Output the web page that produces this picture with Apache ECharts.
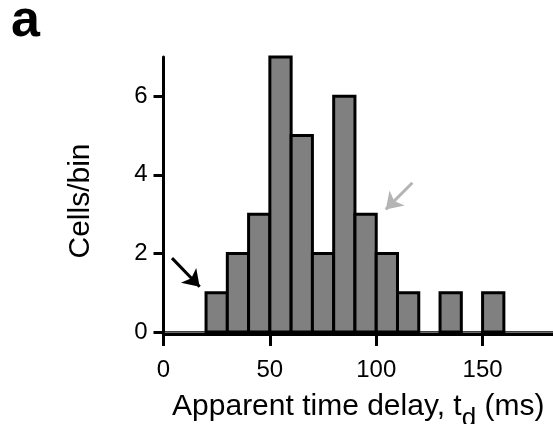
<!DOCTYPE html>
<html>
<head>
<meta charset="utf-8">
<script src="https://cdn.jsdelivr.net/npm/echarts@6/dist/echarts.min.js"></script>
<style>
  html, body { margin: 0; padding: 0; background: #ffffff; }
  #chart { width: 553px; height: 424px; }
</style>
</head>
<body>
<div id="chart"></div>
<script>
// Histogram bins (ms) and counts (cells per bin)
const binStarts = [20, 30, 40, 50, 60, 70, 80, 90, 100, 110, 120, 130, 140, 150];
const binWidth = 10;
const counts    = [1, 2, 3, 7, 5, 2, 6, 3, 2, 1, 0, 1, 0, 1];
const xTicks = [0, 50, 100, 150];
const yTicks = [0, 2, 4, 6];
const xMin = 0, xMax = 183.1;
const yMin = 0, yMax = 7;
const xTitle = 'Apparent time delay, t';
const xTitleSub = 'd';
const xTitleEnd = ' (ms)';
const yTitle = 'Cells/bin';
const panelLabel = 'a';

const FONT = '"Liberation Sans", Arial, Helvetica, sans-serif';

const histData = binStarts.map((s, i) => [s, s + binWidth, counts[i]]).filter(d => d[2] > 0);

const chart = echarts.init(document.getElementById('chart'), null, { renderer: 'canvas' });

const option = {
  backgroundColor: '#ffffff',
  animation: false,
  title: {
    text: panelLabel,
    left: 6,
    top: -9,
    textStyle: { fontFamily: FONT, fontSize: 52, fontWeight: 'bold', color: '#000' }
  },
  grid: { left: 163.5, top: 57, bottom: 92, right: 0, containLabel: false, outerBoundsMode: 'none' },
  xAxis: {
    type: 'value',
    min: xMin, max: xMax, interval: 50,
    offset: 2,
    axisLine: { show: true, onZero: false, lineStyle: { color: '#000', width: 3 } },
    axisTick: { show: true, length: 12, lineStyle: { color: '#000', width: 3 }, customValues: xTicks },
    axisLabel: { customValues: xTicks, margin: 24, fontFamily: FONT, fontSize: 24, color: '#000' },
    splitLine: { show: false },
    name: '{n|' + xTitle + '}{s|' + xTitleSub + '}{n|' + xTitleEnd + '}',
    nameLocation: 'middle',
    nameGap: 52,
    nameTextStyle: {
      rich: {
        n: { fontFamily: FONT, fontSize: 30, color: '#000', lineHeight: 36, verticalAlign: 'bottom' },
        s: { fontFamily: FONT, fontSize: 26, color: '#000', lineHeight: 36, verticalAlign: 'bottom', padding: [0, 0, -10, 0] }
      }
    }
  },
  yAxis: {
    type: 'value',
    min: yMin, max: yMax, interval: 1,
    axisLine: { show: true, onZero: false, lineStyle: { color: '#000', width: 3 } },
    axisTick: { show: true, length: 10, lineStyle: { color: '#000', width: 3 }, customValues: yTicks },
    axisLabel: { customValues: yTicks, margin: 16, fontFamily: FONT, fontSize: 24, color: '#000' },
    splitLine: { show: false },
    name: yTitle,
    nameLocation: 'middle',
    nameGap: 68,
    nameTextStyle: { fontFamily: FONT, fontSize: 30, color: '#000', padding: [0, 13, 0, 0] }
  },
  series: [
    {
      type: 'line',
      data: [[xMin, 0], [xMax, 0]],
      symbol: 'none',
      lineStyle: { color: '#000', width: 1.5 },
      silent: true,
      z: 1
    },
    {
      type: 'custom',
      data: histData,
      encode: { x: [0, 1], y: 2 },
      renderItem: function (params, api) {
        const p0 = api.coord([api.value(0), api.value(2)]);
        const p1 = api.coord([api.value(1), 0]);
        return {
          type: 'rect',
          shape: { x: p0[0], y: p0[1], width: p1[0] - p0[0], height: p1[1] - p0[1] },
          style: { fill: '#808080', stroke: '#000', lineWidth: 3 }
        };
      },
      z: 2,
      markLine: {
        silent: true,
        symbol: ['none', 'arrow'],
        symbolSize: [16, 16],
        label: { show: false },
        data: [
          [
            { coord: [4, 1.88], lineStyle: { color: '#000', width: 3, type: 'solid' } },
            { coord: [17, 1.15] }
          ],
          [
            { coord: [117, 3.8], lineStyle: { color: '#b4b4b4', width: 3, type: 'solid' } },
            { coord: [104.5, 3.12] }
          ]
        ]
      }
    }
  ]
};

chart.setOption(option);
</script>
</body>
</html>
